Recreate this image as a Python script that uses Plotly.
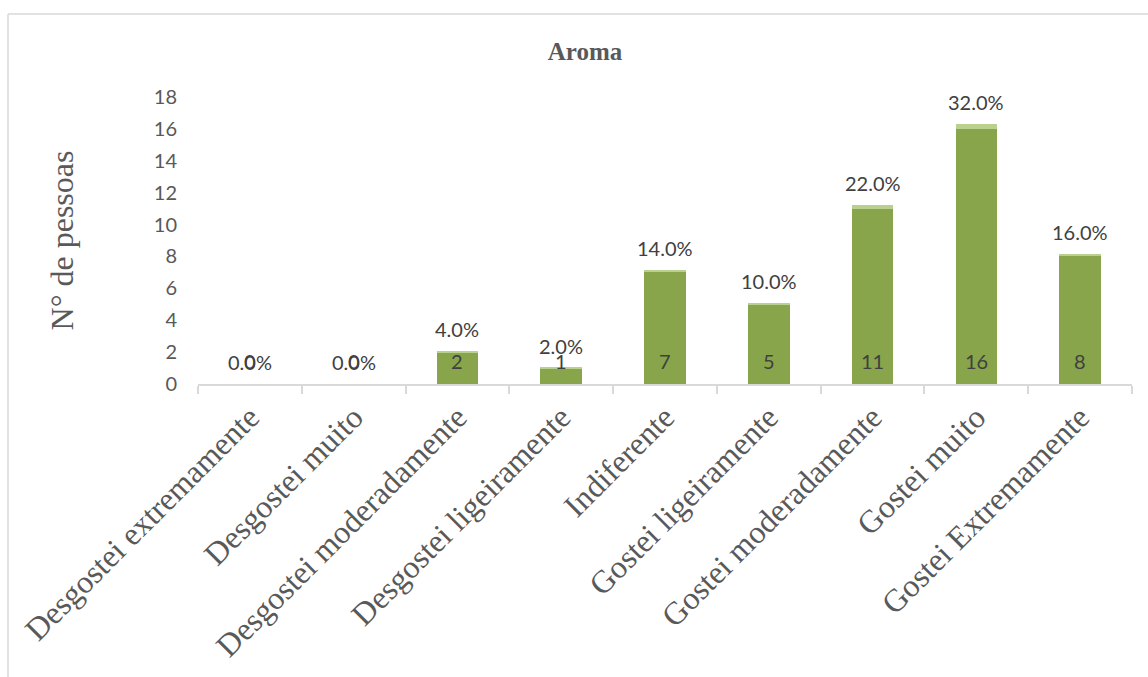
import plotly.graph_objects as go

# Survey results for the "Aroma" attribute
categories = [
    "Desgostei extremamente", "Desgostei muito", "Desgostei moderadamente",
    "Desgostei ligeiramente", "Indiferente", "Gostei ligeiramente",
    "Gostei moderadamente", "Gostei muito", "Gostei Extremamente",
]
counts = [0, 0, 2, 1, 7, 5, 11, 16, 8]
shares = [0.0, 0.0, 0.04, 0.02, 0.14, 0.10, 0.22, 0.32, 0.16]
y_ticks = [0, 2, 4, 6, 8, 10, 12, 14, 16, 18]

W, H = 1148, 677
L, R, T, B = 198, 16, 97, 293
pw, ph = W - L - R, H - T - B

SERIF = "'Liberation Serif', 'Times New Roman', serif"
SANS = "Lato, 'Open Sans', sans-serif"
label_font = dict(family=SANS, size=20, color="#404040")

fig = go.Figure()
fig.add_bar(x=categories, y=counts, marker=dict(color="#88A54B", line=dict(width=0)),
            width=0.4, showlegend=False, hoverinfo="skip")
fig.add_bar(x=categories, y=shares, marker=dict(color="#B9D08F", line=dict(width=0)),
            width=0.4, showlegend=False, hoverinfo="skip")

annotations = []
for cat, c, s in zip(categories, counts, shares):
    # count label near the base of each bar
    annotations.append(dict(x=cat, y=0, xref="x", yref="y", text=str(c), showarrow=False,
                            yshift=23, yanchor="middle", font=label_font))
    # percentage label above the stacked total
    annotations.append(dict(x=cat, y=c + s, xref="x", yref="y", text=f"{s*100:.1f}%",
                            showarrow=False, yshift=22, yanchor="middle", font=label_font))

# outer chart frame (top and left edges)
fx0 = (8 - L) / pw
fy0 = (H - B - 14) / ph
shapes = [
    dict(type="line", xref="paper", yref="paper", x0=fx0, x1=(W + 5 - L) / pw, y0=fy0, y1=fy0,
         line=dict(color="#D9D9D9", width=1.5)),
    dict(type="line", xref="paper", yref="paper", x0=fx0, x1=fx0, y0=fy0, y1=-(B + 5) / ph,
         line=dict(color="#D9D9D9", width=1.5)),
]

fig.update_layout(
    width=W, height=H, barmode="stack", bargap=0.6,
    margin=dict(l=L, r=R, t=T, b=B, autoexpand=False),
    paper_bgcolor="white", plot_bgcolor="white",
    title=dict(text="<b>Aroma</b>", x=585 / W, xanchor="center", y=1 - 51 / H, yanchor="middle",
               font=dict(family=SERIF, size=25, color="#595959")),
    xaxis=dict(type="category", showline=True, linecolor="#D9D9D9", linewidth=1.5,
               ticks="outside", tickson="boundaries", ticklen=8, tickcolor="#D9D9D9", tickwidth=1.5,
               tickangle=-45, showgrid=False,
               tickfont=dict(family=SERIF, size=32, color="#595959")),
    yaxis=dict(range=[0, 18], tickvals=y_ticks, showgrid=False, zeroline=False, showline=False,
               ticks="", ticklabelstandoff=20,
               tickfont=dict(family=SANS, size=20, color="#595959"),
               title=dict(text="N° de pessoas", standoff=70,
                          font=dict(family=SERIF, size=32, color="#595959"))),
    annotations=annotations, shapes=shapes,
)

fig.write_html("out.html")
